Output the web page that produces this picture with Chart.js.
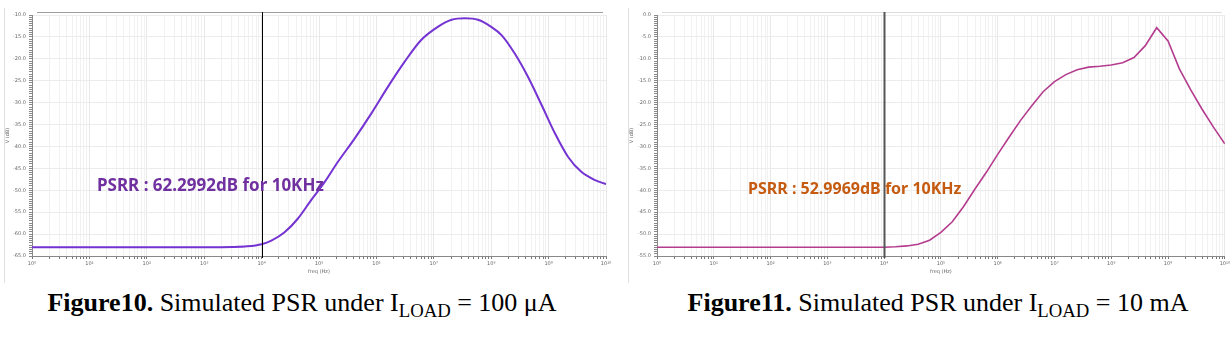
<!DOCTYPE html>
<html>
<head>
<meta charset="utf-8">
<script src="https://cdn.jsdelivr.net/npm/chart.js@4"></script>
<style>
  body { margin: 0; background: #fff; width: 1232px; height: 362px; position: relative; overflow: hidden; }
  canvas { position: absolute; top: 0; }
  .cap { position: absolute; top: 288px; font-family: "Liberation Serif", "Times New Roman", serif; font-size: 26px; color: #000; white-space: nowrap; transform: translateX(-50%); }
  .cap sub { font-size: 0.72em; vertical-align: -0.3em; line-height: 0; }
</style>
</head>
<body>
<canvas id="psr100" width="616" height="285" style="left:0"></canvas>
<canvas id="psr10m" width="616" height="285" style="left:616px"></canvas>
<div class="cap" style="left:302px"><b>Figure10.</b> Simulated PSR under I<sub>LOAD</sub> = 100 μA</div>
<div class="cap" style="left:938px"><b>Figure11.</b> Simulated PSR under I<sub>LOAD</sub> = 10 mA</div>
<script>
// frequency as decade exponent (10^x Hz), PSR in dB
const psr100Exp = [0, 1, 2, 3, 3.5, 3.75, 4, 4.17, 4.4, 4.63, 4.86, 5.1, 5.33, 5.62, 5.91, 6.2, 6.49, 6.78, 7.07, 7.31, 7.54, 7.77, 8.0, 8.18, 8.41, 8.64, 8.88, 9.11, 9.34, 9.57, 9.81, 10];
const psr100dB = [-63.0, -63.0, -63.0, -63.0, -62.95, -62.8, -62.3, -61.5, -59.6, -56.5, -52.3, -48.1, -43.5, -38.2, -32.5, -26.4, -20.7, -15.7, -12.7, -11.1, -10.75, -11.1, -12.7, -14.6, -18.8, -24.1, -30.6, -37.0, -42.4, -45.8, -47.7, -48.6];

const psr10mExp = [0, 1, 2, 3, 3.6, 4, 4.2, 4.4, 4.6, 4.8, 5.0, 5.2, 5.4, 5.6, 5.8, 6.0, 6.2, 6.4, 6.6, 6.8, 7.0, 7.2, 7.4, 7.6, 7.8, 8.0, 8.2, 8.4, 8.6, 8.8, 9.0, 9.2, 9.4, 9.6, 9.8, 10];
const psr10mdB = [-53.0, -53.0, -53.0, -53.0, -53.0, -53.0, -52.9, -52.7, -52.3, -51.4, -49.6, -47.2, -43.7, -39.7, -35.9, -31.8, -27.9, -24.1, -20.7, -17.5, -15.2, -13.6, -12.5, -11.9, -11.7, -11.4, -10.9, -9.7, -7.0, -2.9, -5.9, -12.3, -17.1, -21.5, -25.6, -29.4];

const decadeLabels = ['10⁰', '10¹', '10²', '10³', '10⁴', '10⁵', '10⁶', '10⁷', '10⁸', '10⁹', '10¹⁰'];
const markerFreq = 1e4;

function toPoints(exps, vals) {
  return exps.map((e, i) => ({ x: Math.pow(10, e), y: vals[i] }));
}

// 1..9 x 10^n ticks for the log axis
function logTicks(scale) {
  const t = [];
  for (let n = 0; n < 10; n++) {
    for (let k = 1; k < 10; k++) t.push({ value: k * Math.pow(10, n), major: k === 1 });
  }
  t.push({ value: 1e10, major: true });
  scale.ticks = t;
}

function makeChart(id, opts) {
  const ctx = document.getElementById(id).getContext('2d');
  return new Chart(ctx, {
    type: 'line',
    data: {
      datasets: [{
        data: toPoints(opts.exps, opts.vals),
        borderColor: opts.color,
        borderWidth: opts.width,
        pointRadius: 0,
        tension: 0,
        cubicInterpolationMode: opts.smooth ? 'monotone' : 'default'
      }]
    },
    options: {
      responsive: false,
      animation: false,
      layout: { padding: { left: opts.padLeft, right: opts.padRight, top: 15, bottom: 0 } },
      plugins: { legend: { display: false }, tooltip: { enabled: false } },
      scales: {
        x: {
          type: 'logarithmic',
          min: 1,
          max: 1e10,
          afterBuildTicks: logTicks,
          afterFit: s => { s.height = 29; },
          border: { color: '#888' },
          grid: {
            color: c => c.tick && c.tick.major ? '#e8e8e8' : '#f1f1f1',
            tickColor: '#777',
            tickLength: 3
          },
          ticks: {
            autoSkip: false,
            maxRotation: 0,
            padding: 2,
            color: '#666',
            font: { size: 5, family: 'DejaVu Sans' },
            callback: v => {
              const e = Math.log10(v);
              return Math.abs(e - Math.round(e)) < 1e-9 ? decadeLabels[Math.round(e)] : '';
            }
          },
          title: { display: true, text: 'freq (Hz)', color: '#666', font: { size: 5, family: 'DejaVu Sans' }, padding: { top: 0, bottom: 10 } }
        },
        y: {
          min: opts.yMin,
          max: opts.yMax,
          afterFit: s => { s.width = opts.yWidth; },
          border: { color: '#888' },
          grid: {
            color: c => c.tick && c.tick.value % 5 === 0 ? '#ececec' : 'rgba(0,0,0,0)',
            tickColor: '#888',
            tickLength: 3
          },
          ticks: {
            stepSize: 0.5,
            autoSkip: false,
            padding: 3,
            color: '#666',
            font: { size: 5, family: 'DejaVu Sans' },
            callback: v => v % 5 === 0 ? v.toFixed(1) : ''
          },
          title: { display: true, text: 'V (dB)', color: '#666', font: { size: 5, family: 'DejaVu Sans' }, padding: { top: 1, bottom: 0 } }
        }
      }
    },
    plugins: [{
      id: 'decor',
      afterDraw(chart) {
        const c = chart.ctx;
        const area = chart.chartArea;
        const xs = chart.scales.x;
        c.save();
        // panel frame lines
        c.strokeStyle = '#e0e0e0';
        c.lineWidth = 1;
        c.beginPath();
        c.moveTo(opts.frameX + 0.5, 8);
        c.lineTo(opts.frameX + 0.5, 283);
        c.stroke();
        c.strokeStyle = opts.topColor;
        c.beginPath();
        c.moveTo(area.left + 5, 12.5);
        c.lineTo(area.right - 3, 12.5);
        c.stroke();
        // 10 kHz marker
        const mx = Math.round(xs.getPixelForValue(markerFreq)) + 0.5;
        c.strokeStyle = opts.markerColor;
        c.lineWidth = opts.markerWidth;
        c.beginPath();
        c.moveTo(mx, 12);
        c.lineTo(mx, area.bottom + 2);
        c.stroke();
        // annotation text
        c.fillStyle = opts.textColor;
        c.font = 'bold ' + opts.textSize + 'px "Noto Sans"';
        c.textBaseline = 'middle';
        c.textAlign = 'left';
        c.fillText(opts.text, opts.textX, opts.textY);
        c.restore();
      }
    }]
  });
}

makeChart('psr100', {
  exps: psr100Exp, vals: psr100dB, color: '#7433D2', width: 2, smooth: true,
  padLeft: 4, padRight: 10, yWidth: 28, yMin: -65, yMax: -10,
  frameX: 4, topColor: '#a0a0a0', markerColor: '#000', markerWidth: 1,
  text: 'PSRR : 62.2992dB for 10KHz', textColor: '#7030A0', textSize: 17, textX: 97, textY: 186
});

makeChart('psr10m', {
  exps: psr10mExp, vals: psr10mdB, color: '#B43C8E', width: 1.6, smooth: false,
  padLeft: 12, padRight: 5, yWidth: 29, yMin: -55, yMax: 0,
  frameX: 12, topColor: '#dddddd', markerColor: '#555', markerWidth: 2,
  text: 'PSRR : 52.9969dB for 10KHz', textColor: '#C55A11', textSize: 16, textX: 132, textY: 189
});
</script>
</body>
</html>
